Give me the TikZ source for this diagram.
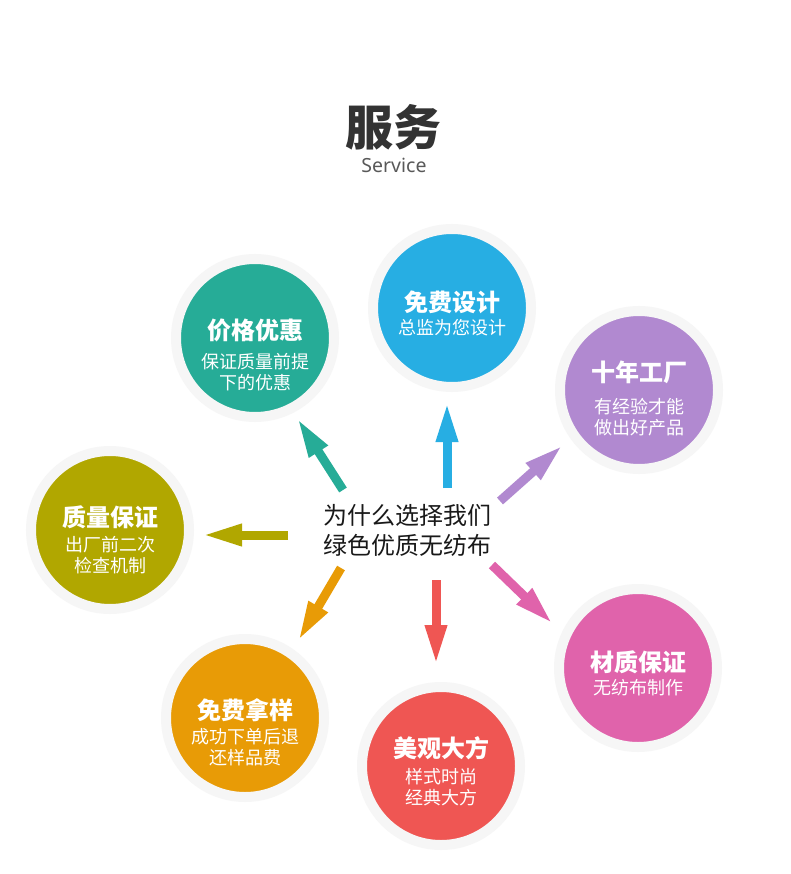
\documentclass[tikz,border=0pt]{standalone}
\usepackage{fontspec}
\setmainfont{Noto Sans CJK SC}
\newfontfamily\latinlight{Noto Sans}
\usetikzlibrary{arrows.meta}
\definecolor{halo}{HTML}{F6F6F6}
\definecolor{cteal}{HTML}{26AC97}
\definecolor{cblue}{HTML}{27AEE3}
\definecolor{cpurple}{HTML}{B189D0}
\definecolor{colive}{HTML}{B1A700}
\definecolor{corange}{HTML}{E89B06}
\definecolor{cred}{HTML}{EF5653}
\definecolor{cpink}{HTML}{E063AB}
\tikzset{
  bubble/.style={circle, minimum size=158pt, inner sep=0pt, fill=#1, draw=halo, line width=10pt},
  ctitle/.style={text=white, font=\fontsize{24}{24}\selectfont\bfseries, inner sep=0pt},
  csub/.style={text=white, font=\fontsize{18}{21}\selectfont, inner sep=0pt, align=center},
  blockarrow/.style={draw=#1, line width=9pt, -{Triangle[width=20pt,length=40pt]}}
}
\begin{document}
\begin{tikzpicture}[x=1pt,y=-1pt]
\useasboundingbox[fill=white] (0,0) rectangle (790,874);
% heading
\node[text=black!80, font=\fontsize{48}{48}\selectfont\bfseries, inner sep=0pt] (title) at (393,127) {服务};
\node[text=black!65, font=\latinlight\fontsize{19.5}{19.5}\selectfont, inner sep=0pt] (service) at (394,165) {Service};
% circles
\node[bubble=cteal] (c1) at (255,338) {};
\node[bubble=cblue] (c2) at (452,308) {};
\node[bubble=cpurple] (c3) at (639,390) {};
\node[bubble=colive] (c4) at (110,530) {};
\node[bubble=corange] (c5) at (245,718) {};
\node[bubble=cred] (c6) at (441,766) {};
\node[bubble=cpink] (c7) at (638,668) {};
% circle texts
\node[ctitle] (t1) at (255,330) {价格优惠};
\node[csub] (s1) at (255,372) {保证质量前提\\下的优惠};
\node[ctitle] (t2) at (452,302) {免费设计};
\node[csub] (s2) at (452,328) {总监为您设计};
\node[ctitle] (t3) at (639,372) {十年工厂};
\node[csub] (s3) at (639,417) {有经验才能\\做出好产品};
\node[ctitle] (t4) at (110,517) {质量保证};
\node[csub] (s4) at (110,555) {出厂前二次\\检查机制};
\node[ctitle] (t5) at (245,710) {免费拿样};
\node[csub] (s5) at (245,747) {成功下单后退\\还样品费};
\node[ctitle] (t6) at (441,748) {美观大方};
\node[csub] (s6) at (441,787) {样式时尚\\经典大方};
\node[ctitle] (t7) at (638,662) {材质保证};
\node[csub] (s7) at (638,688) {无纺布制作};
% centre text
\node[text=black!90, font=\fontsize{24}{30}\selectfont, inner sep=0pt, align=center] (centre) at (407,530) {为什么选择我们\\绿色优质无纺布};
% arrows
\coordinate (a1b) at (343,490); \coordinate (a1t) at (297,418);
\coordinate (a2b) at (447,488); \coordinate (a2t) at (447,402);
\coordinate (a3b) at (500,501); \coordinate (a3t) at (563,445);
\coordinate (a4b) at (288,535); \coordinate (a4t) at (202,535);
\coordinate (a5b) at (341,568); \coordinate (a5t) at (298,641);
\coordinate (a6b) at (436,580); \coordinate (a6t) at (436,665);
\coordinate (a7b) at (492,565); \coordinate (a7t) at (553,624);
\draw[blockarrow=cteal] (a1b) -- (a1t);
\draw[blockarrow=cblue] (a2b) -- (a2t);
\draw[blockarrow=cpurple] (a3b) -- (a3t);
\draw[blockarrow=colive] (a4b) -- (a4t);
\draw[blockarrow=corange] (a5b) -- (a5t);
\draw[blockarrow=cred] (a6b) -- (a6t);
\draw[blockarrow=cpink] (a7b) -- (a7t);
\end{tikzpicture}
\end{document}
